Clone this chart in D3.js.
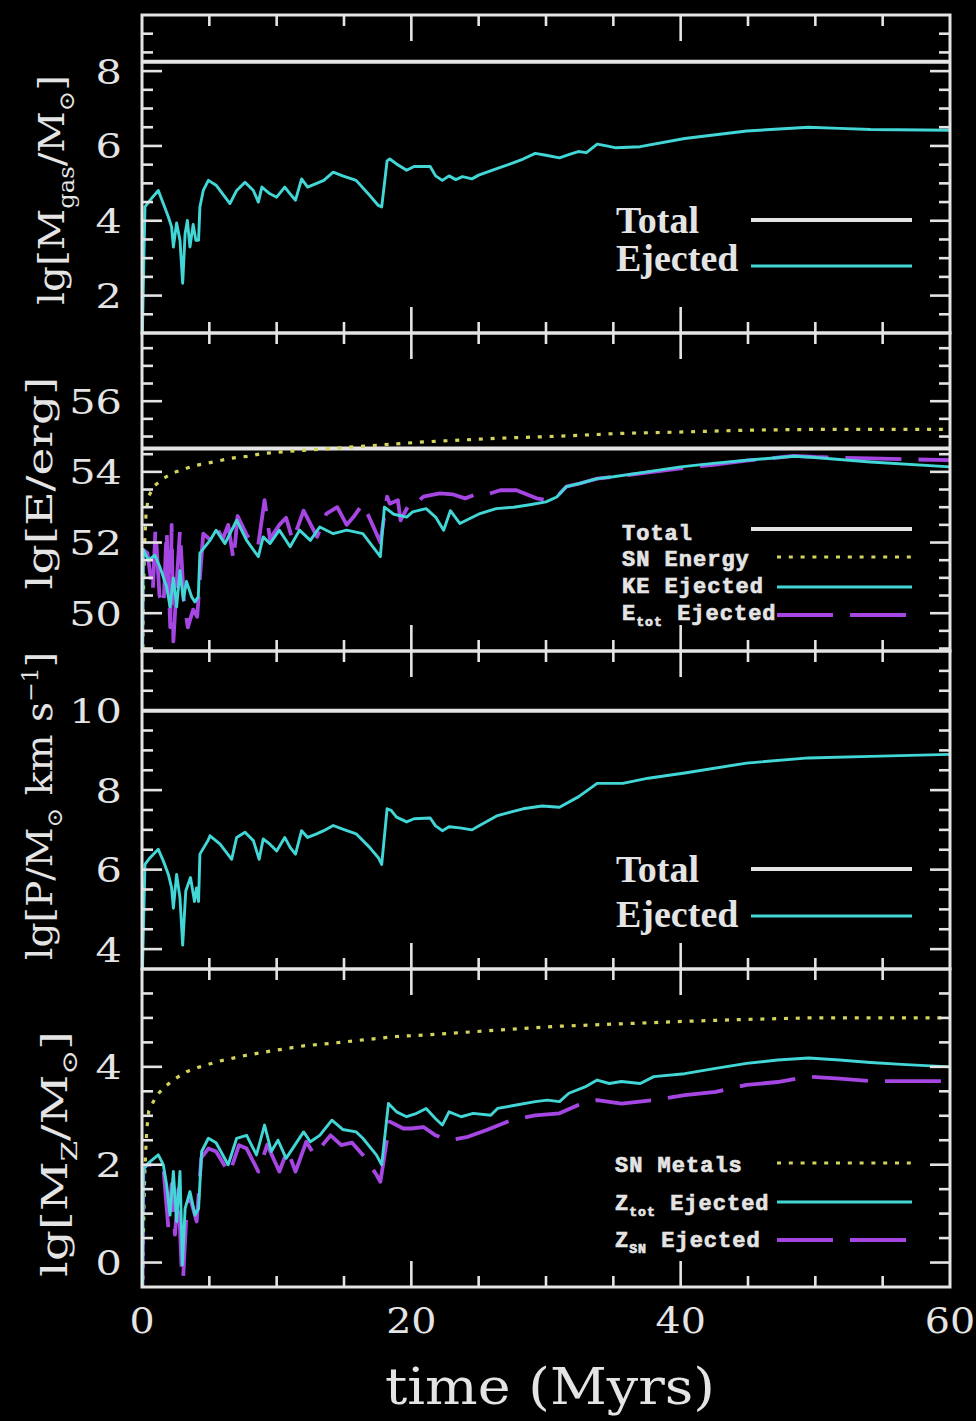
<!DOCTYPE html>
<html>
<head>
<meta charset="utf-8">
<script src="https://cdn.jsdelivr.net/npm/d3@7"></script>
<style>
  html, body { margin: 0; padding: 0; background: #000; }
  svg { display: block; }
</style>
</head>
<body>
<svg id="chart" width="976" height="1421"></svg>
<script>
// ---------------- data ----------------
// time axis (Myr)
const timeTicks = [0, 20, 40, 60];

// Panel 1: gas mass, lg[M_gas / Msun]
const massTotal = 8.25;
const massTime = [0, 0.22, 0.6, 1.21, 1.58, 1.96, 2.2, 2.33, 2.57, 2.82, 3.02, 3.2, 3.37, 3.56, 3.8, 4.0, 4.2, 4.3, 4.55, 4.93,
  5.5, 6.53, 7.03, 7.65, 8.27, 8.64, 8.9, 9.5, 10.0, 10.6, 11.0, 11.4, 11.85, 12.3, 12.97, 13.5, 14.2, 14.9, 15.9, 16.9,
  17.55, 17.8, 18.2, 18.4, 18.9, 19.65, 20.2, 21.4, 21.8, 22.3, 22.8, 23.3, 23.8, 24.5, 25.0, 26.4, 27.2, 28.3, 29.2, 30.0,
  31.0, 31.8, 32.4, 33.0, 33.8, 34.5, 35.2, 37.0, 40.3, 44.9, 49.5, 51.8, 54.1, 60];
const massEjected = [0.5, 4.37, 4.55, 4.81, 4.46, 4.1, 3.83, 3.3, 3.94, 3.48, 2.33, 3.65, 4.01, 3.3, 3.9, 3.48, 3.48, 4.37, 4.81, 5.08,
  4.95, 4.46, 4.81, 5.03, 4.81, 4.5, 4.9, 4.72, 4.63, 4.9, 4.72, 4.55, 5.12, 4.9, 5.0, 5.08, 5.3, 5.2, 5.08, 4.68,
  4.41, 4.37, 5.6, 5.65, 5.52, 5.35, 5.45, 5.45, 5.2, 5.08, 5.2, 5.1, 5.18, 5.12, 5.22, 5.4, 5.5, 5.65, 5.8, 5.75,
  5.68, 5.78, 5.85, 5.82, 6.05, 6.0, 5.95, 5.98, 6.2, 6.4, 6.5, 6.47, 6.44, 6.42];

// Panel 2: energy, lg[E / erg]
const energyTotal = 54.66;
const snEnergyTime = [0, 0.1, 0.2, 0.3, 0.47, 0.96, 1.58, 2.3, 3.3, 4.06, 5.3, 6.5, 7.8, 9.0, 11.5, 14.0, 18.4, 21.0,
  26.4, 31.0, 35.6, 40.3, 44.9, 49.5, 60];
const snEnergy = [46, 50.5, 52.0, 52.8, 53.3, 53.62, 53.81, 53.97, 54.1, 54.19, 54.28, 54.38, 54.44, 54.52, 54.6, 54.66, 54.78, 54.85,
  54.95, 55.01, 55.09, 55.13, 55.18, 55.2, 55.2];
const keTime = [0, 0.1, 0.47, 0.96, 1.34, 1.83, 2.08, 2.33, 2.57, 2.82, 3.07, 3.3, 3.69, 3.93, 4.18, 4.3, 5.05, 5.5, 6.16, 7.03,
  7.77, 8.64, 9.0, 9.5, 10.2, 11.0, 11.7, 12.5, 13.2, 14.2, 15.2, 16.4, 17.7, 18.0, 18.7, 19.65, 20.1, 21.1, 21.8, 22.4,
  22.9, 23.6, 25.1, 26.3, 27.6, 28.8, 30.0, 30.8, 31.5, 32.5, 33.8, 35.0, 37.5, 40.0, 42.4, 44.9, 48.4, 49.5, 54.1, 60];
const keEjected = [47, 51.8, 51.5, 51.64, 51.3, 50.74, 50.18, 51.0, 50.18, 51.2, 50.37, 50.9, 50.46, 50.32, 50.46, 51.7, 52.06, 52.35, 51.97, 52.63,
  52.06, 51.6, 52.16, 51.97, 52.35, 51.88, 52.35, 52.06, 52.44, 52.25, 52.35, 52.25, 51.6, 53.0, 52.8, 52.72, 52.87, 52.96, 52.72, 52.35,
  52.9, 52.54, 52.82, 52.96, 53.0, 53.07, 53.15, 53.29, 53.58, 53.67, 53.81, 53.86, 54.0, 54.14, 54.24, 54.33, 54.44, 54.42, 54.28, 54.14];
const eTotTime = [0, 0.05, 0.4, 0.8, 1.0, 1.3, 1.6, 1.83, 2.1, 2.2, 2.33, 2.6, 2.82, 3.1, 3.4, 3.8, 4.1, 4.3, 4.55, 5.0,
  5.5, 6.0, 6.4, 6.8, 7.1, 7.8, 8.6, 9.1, 9.5, 10.2, 10.7, 11.2, 12.0, 13.0, 13.7, 14.5, 15.2, 15.7, 16.4, 17.0,
  17.7, 18.2, 18.4, 19.0, 19.2, 20.0, 20.6, 20.9, 22.1, 23.1, 24.0, 25.0, 25.6, 26.6, 27.8, 29.3, 30.0, 30.8, 31.5, 32.5,
  33.8, 35.0, 37.5, 40.0, 42.4, 44.9, 48.4, 50.0, 54.1, 60];
const eTotEjected = [47, 51.8, 51.7, 50.6, 52.4, 50.5, 50.2, 52.35, 49.6, 52.5, 49.2, 51.0, 52.35, 50.4, 49.6, 50.1, 49.9, 51.0, 52.25, 52.1,
  52.45, 52.1, 52.5, 51.5, 52.75, 52.2, 51.85, 53.2, 52.1, 52.5, 52.7, 52.05, 52.9, 52.16, 52.82, 53.0, 52.5, 52.72, 53.1, 52.6,
  52.0, 53.3, 53.1, 53.2, 52.63, 53.2, 53.2, 53.3, 53.39, 53.36, 53.25, 53.39, 53.36, 53.48, 53.48, 53.25, 53.2, 53.3, 53.58, 53.67,
  53.81, 53.86, 53.98, 54.1, 54.2, 54.32, 54.45, 54.42, 54.38, 54.33];

// Panel 3: momentum, lg[P / (Msun km/s)]
const momTotal = 10.0;
const momTime = [0, 0.22, 0.6, 1.21, 1.58, 1.96, 2.2, 2.33, 2.57, 2.82, 3.02, 3.25, 3.6, 3.9, 4.05, 4.2, 4.3, 4.9, 5.05, 5.8,
  6.66, 7.03, 7.65, 8.27, 8.7, 9.0, 9.5, 10.0, 10.6, 11.0, 11.4, 11.85, 12.3, 12.97, 13.5, 14.2, 14.9, 15.9, 16.9, 17.55,
  17.8, 18.2, 18.5, 18.9, 19.65, 20.2, 21.4, 21.8, 22.3, 22.8, 23.6, 24.5, 25.0, 26.4, 28.3, 29.7, 31.0, 32.4, 33.8, 35.7,
  37.6, 40.3, 44.9, 49.5, 54.1, 60];
const momEjected = [3.0, 6.13, 6.3, 6.51, 6.22, 5.88, 5.54, 5.03, 5.88, 5.29, 4.1, 5.46, 5.8, 5.2, 5.54, 5.2, 6.39, 6.73, 6.85, 6.64,
  6.26, 6.81, 6.94, 6.73, 6.26, 6.77, 6.64, 6.47, 6.81, 6.56, 6.39, 6.98, 6.81, 6.9, 6.98, 7.11, 7.02, 6.9, 6.56, 6.3,
  6.13, 7.53, 7.49, 7.32, 7.2, 7.28, 7.3, 7.1, 6.98, 7.08, 7.05, 7.0, 7.1, 7.36, 7.53, 7.6, 7.57, 7.83, 8.17, 8.17,
  8.3, 8.43, 8.68, 8.81, 8.85, 8.9];

// Panel 4: metals, lg[M_Z / Msun]
const snMetalTime = [0, 0.1, 0.2, 0.35, 0.5, 0.72, 1.09, 1.7, 2.3, 3.3, 4.3, 5.8, 7.8, 9.5, 12.0, 14.0, 16.4, 18.9, 20.9,
  26.4, 31.0, 35.6, 40.3, 44.9, 49.5, 60];
const snMetals = [-3, 0.5, 1.8, 2.7, 3.1, 3.22, 3.42, 3.59, 3.73, 3.9, 4.0, 4.12, 4.24, 4.32, 4.43, 4.48, 4.55, 4.62, 4.65,
  4.75, 4.83, 4.88, 4.93, 4.97, 5.0, 5.0];
const zTotTime = [0, 0.1, 0.47, 1.21, 1.58, 1.83, 2.08, 2.33, 2.57, 2.82, 3.0, 3.2, 3.56, 3.93, 4.2, 4.43, 4.93, 5.5, 6.4, 7.03,
  7.77, 8.5, 9.1, 9.6, 10.1, 10.7, 12.0, 12.5, 13.2, 14.1, 14.9, 15.9, 16.4, 17.4, 17.8, 18.3, 18.9, 19.65, 20.4, 21.1,
  21.8, 22.3, 22.8, 23.7, 24.6, 25.9, 26.4, 27.8, 29.2, 30.1, 31.0, 31.7, 32.9, 33.8, 34.7, 35.6, 37.0, 38.0, 40.3, 42.6,
  44.9, 47.2, 49.5, 51.8, 54.1, 56.4, 60];
const zTotEjected = [-2, 1.9, 2.03, 2.2, 2.0, 1.59, 0.97, 1.86, 0.84, 1.86, -0.05, 1.1, 1.45, 0.97, 1.1, 2.27, 2.54, 2.45, 2.0, 2.54,
  2.6, 2.2, 2.81, 2.27, 2.5, 2.13, 2.67, 2.47, 2.6, 2.91, 2.72, 2.67, 2.54, 2.2, 2.0, 3.25, 3.08, 2.98, 3.05, 3.15,
  2.94, 2.81, 3.08, 2.98, 3.05, 3.01, 3.15, 3.22, 3.29, 3.32, 3.29, 3.46, 3.59, 3.73, 3.66, 3.7, 3.66, 3.8, 3.86, 3.97,
  4.07, 4.14, 4.18, 4.14, 4.09, 4.05, 4.0];
const zSNTime = [0, 0.1, 0.47, 1.58, 1.96, 2.2, 2.45, 2.7, 2.95, 3.05, 3.3, 3.6, 4.06, 4.4, 4.93, 5.5, 6.5, 7.2, 7.77, 8.64,
  9.3, 9.8, 10.2, 10.8, 11.4, 12.2, 12.8, 14.0, 14.8, 15.6, 16.4, 17.4, 17.7, 18.4, 19.4, 20.0, 20.9, 21.8, 22.8, 24.2,
  25.6, 27.4, 29.2, 31.0, 32.4, 33.8, 35.6, 38.0, 40.3, 42.6, 44.9, 47.2, 49.5, 51.8, 54.1, 60];
const zSNEjected = [-2, 1.95, 2.0, 1.97, 0.7, 1.6, 0.57, 1.5, -0.18, -0.35, 1.0, 1.3, 0.84, 2.14, 2.33, 2.27, 1.82, 2.4, 2.33, 1.86,
  2.41, 2.1, 1.86, 2.3, 1.86, 2.47, 2.2, 2.6, 2.4, 2.45, 2.2, 1.8, 1.65, 2.88, 2.74, 2.74, 2.77, 2.6, 2.5, 2.57,
  2.71, 2.91, 3.01, 3.05, 3.22, 3.32, 3.25, 3.32, 3.42, 3.49, 3.63, 3.69, 3.8, 3.76, 3.71, 3.71];

// y tick labels per panel
const massTicks = [2, 4, 6, 8];
const energyTicks = [50, 52, 54, 56];
const momTicks = [4, 6, 8, 10];
const metalTicks = [0, 2, 4];

// ---------------- styling ----------------
const WHITE = "#e4e4e4";
const CYAN = "#42d6d6";
const PURPLE = "#a646e2";
const YELLOW = "#d4d45c";
const SERIF = "'DejaVu Serif', 'Liberation Serif', serif";

const style = {
  total:  { stroke: WHITE,  width: 4,   dash: null },
  solid:  { stroke: CYAN,   width: 2.9, dash: null },
  dashed: { stroke: PURPLE, width: 3.8, dash: "56 17" },
  dotted: { stroke: YELLOW, width: 3.2, dash: "4 7.8" }
};

const svg = d3.select("#chart");
svg.append("rect").attr("width", 976).attr("height", 1421).attr("fill", "#000");

const x = d3.scaleLinear().domain([0, 60]).range([142, 950]);
const PANEL_H = 318;
const pairs = (ts, vs) => ts.map((t, i) => [t, vs[i]]);

const MONO_FONT = "bold 22px 'Liberation Mono', monospace";
const SERIF_BOLD = "bold 38px 'Liberation Serif', serif";

const panels = [
  {
    top: 15, domain: [1, 9.5], ticks: massTicks,
    title: [["lg[M"], ["gas", "sub"], ["/M"], ["\u2299", "sub"], ["]"]],
    titleX: 64, titleY: 190, titleLen: 230,
    series: [
      { data: [[0, massTotal], [60, massTotal]], s: "total" },
      { data: pairs(massTime, massEjected), s: "solid" }
    ],
    legend: {
      font: SERIF_BOLD, spacing: 0, weight: 0, textX: 616, lineX: [751, 912],
      rows: [
        { label: [["Total"]], y: 233, lineY: 220, s: "total" },
        { label: [["Ejected"]], y: 271, lineY: 266, s: "solid" }
      ]
    }
  },
  {
    top: 333, domain: [48.93, 57.93], ticks: energyTicks,
    title: [["lg[E/erg]"]],
    titleX: 52, titleY: 483, titleLen: 213,
    series: [
      { data: [[0, energyTotal], [60, energyTotal]], s: "total" },
      { data: pairs(snEnergyTime, snEnergy), s: "dotted" },
      { data: pairs(eTotTime, eTotEjected), s: "dashed" },
      { data: pairs(keTime, keEjected), s: "solid" }
    ],
    legend: {
      font: MONO_FONT, spacing: 1, weight: 0.7, textX: 622, lineX: [777, 912],
      rows: [
        { label: [["Total"]], y: 540, lineY: 529, s: "total", lineX: [751, 912] },
        { label: [["SN Energy"]], y: 566, lineY: 557, s: "dotted" },
        { label: [["KE Ejected"]], y: 593, lineY: 587, s: "solid" },
        { label: [["E"], ["tot", "sub"], [" Ejected"]], y: 620, lineY: 615, s: "dashed" }
      ]
    }
  },
  {
    top: 651, domain: [3.5, 11.5], ticks: momTicks,
    title: [["lg[P/M"], ["\u2299", "sub"], [" km s"], ["\u22121", "sup"], ["]"]],
    titleX: 52, titleY: 806, titleLen: 308,
    series: [
      { data: [[0, momTotal], [60, momTotal]], s: "total" },
      { data: pairs(momTime, momEjected), s: "solid" }
    ],
    legend: {
      font: SERIF_BOLD, spacing: 0, weight: 0, textX: 616, lineX: [751, 912],
      rows: [
        { label: [["Total"]], y: 882, lineY: 869, s: "total" },
        { label: [["Ejected"]], y: 927, lineY: 916, s: "solid" }
      ]
    }
  },
  {
    top: 969, domain: [-0.5, 6], ticks: metalTicks,
    title: [["lg[M"], ["Z", "sub"], ["/M"], ["\u2299", "sub"], ["]"]],
    titleX: 67, titleY: 1154, titleLen: 246,
    series: [
      { data: pairs(snMetalTime, snMetals), s: "dotted" },
      { data: pairs(zSNTime, zSNEjected), s: "dashed" },
      { data: pairs(zTotTime, zTotEjected), s: "solid" }
    ],
    legend: {
      font: MONO_FONT, spacing: 1, weight: 0.7, textX: 615, lineX: [777, 912],
      rows: [
        { label: [["SN Metals"]], y: 1172, lineY: 1163, s: "dotted" },
        { label: [["Z"], ["tot", "sub"], [" Ejected"]], y: 1210, lineY: 1202, s: "solid" },
        { label: [["Z"], ["SN", "sub"], [" Ejected"]], y: 1247, lineY: 1240, s: "dashed" }
      ]
    }
  }
];

function applyStyle(sel, key) {
  const st = style[key];
  sel.attr("fill", "none")
    .attr("stroke", st.stroke)
    .attr("stroke-width", st.width)
    .attr("stroke-linejoin", "round")
    .attr("stroke-dasharray", st.dash);
  return sel;
}

// text built from [string, "sub"|"sup"] runs
function richText(textSel, runs, fs) {
  let shift = 0;
  runs.forEach(([str, kind]) => {
    const target = kind === "sub" ? 0.28 * fs : kind === "sup" ? -0.38 * fs : 0;
    const ts = textSel.append("tspan").text(str).attr("dy", target - shift);
    if (kind) ts.attr("font-size", fs * 0.6);
    shift = target;
  });
  if (shift !== 0) textSel.append("tspan").text("\u200b").attr("dy", -shift);
}

panels.forEach((p, i) => {
  const y = d3.scaleLinear().domain(p.domain).range([p.top + PANEL_H, p.top]);
  const g = svg.append("g");
  const clipId = "clip" + i;
  svg.append("clipPath").attr("id", clipId).append("rect")
    .attr("x", x(0)).attr("y", p.top).attr("width", x(60) - x(0)).attr("height", PANEL_H);

  // data lines
  const line = d3.line().x(d => x(d[0])).y(d => y(d[1]));
  const lines = g.append("g").attr("clip-path", `url(#${clipId})`);
  p.series.forEach(s => {
    applyStyle(lines.append("path").datum(s.data).attr("d", line), s.s);
  });

  // frame
  g.append("rect").attr("x", x(0)).attr("y", p.top)
    .attr("width", x(60) - x(0)).attr("height", PANEL_H)
    .attr("fill", "none").attr("stroke", WHITE).attr("stroke-width", 3);

  // x ticks on top and bottom edges
  const xt = d3.range(5, 60, 5);
  const tk = g.append("g").attr("stroke", WHITE).attr("stroke-width", 2.6);
  xt.forEach(t => {
    const len = t % 20 === 0 ? 26 : 11;
    tk.append("line").attr("x1", x(t)).attr("x2", x(t)).attr("y1", p.top).attr("y2", p.top + len);
    tk.append("line").attr("x1", x(t)).attr("x2", x(t)).attr("y1", p.top + PANEL_H).attr("y2", p.top + PANEL_H - len);
  });
  // y ticks on left and right edges (minor every 0.5, major every 2)
  const [d0, d1] = p.domain;
  const yt = d3.range(Math.ceil(d0 * 2) / 2, d1 + 1e-6, 0.5).filter(v => v > d0 + 1e-6 && v < d1 - 1e-6);
  yt.forEach(v => {
    const len = Math.abs(v % 2) < 1e-6 ? 20 : 11;
    tk.append("line").attr("x1", x(0)).attr("x2", x(0) + len).attr("y1", y(v)).attr("y2", y(v));
    tk.append("line").attr("x1", x(60)).attr("x2", x(60) - len).attr("y1", y(v)).attr("y2", y(v));
  });

  // y tick labels
  p.ticks.forEach(v => {
    g.append("g").attr("transform", `translate(122,${y(v) + 12.5}) scale(1.22,1)`)
      .append("text").attr("text-anchor", "end")
      .attr("font-family", SERIF).attr("font-size", 34).attr("fill", WHITE)
      .text(v);
  });

  // rotated y-axis title, stretched to its measured span
  const tg = g.append("g");
  const tt = tg.append("text").attr("text-anchor", "middle")
    .attr("font-family", SERIF).attr("font-size", 36).attr("fill", WHITE);
  richText(tt, p.title, 36);
  const natural = tt.node().getComputedTextLength();
  tg.attr("transform", `translate(${p.titleX},${p.titleY}) rotate(-90) scale(${p.titleLen / natural},1)`);

  // legend
  const lg = p.legend;
  lg.rows.forEach(r => {
    const t = g.append("text").attr("x", lg.textX).attr("y", r.y)
      .attr("fill", WHITE).style("font", lg.font).style("letter-spacing", lg.spacing + "px");
    if (lg.weight) t.attr("stroke", WHITE).attr("stroke-width", lg.weight);
    const fs = parseFloat(lg.font.match(/(\d+)px/)[1]);
    richText(t, r.label, fs);
    const lx = r.lineX || lg.lineX;
    applyStyle(g.append("line").attr("x1", lx[0]).attr("x2", lx[1])
      .attr("y1", r.lineY).attr("y2", r.lineY), r.s);
  });

  // x tick labels and title on the bottom panel only
  if (i === panels.length - 1) {
    timeTicks.forEach(t => {
      g.append("g").attr("transform", `translate(${x(t)},1333) scale(1.1,1)`)
        .append("text").attr("text-anchor", "middle")
        .attr("font-family", SERIF).attr("font-size", 36).attr("fill", WHITE)
        .text(t);
    });
    const xg = svg.append("g");
    const xtxt = xg.append("text").attr("text-anchor", "middle")
      .attr("font-family", SERIF).attr("font-size", 50).attr("fill", WHITE)
      .text("time (Myrs)");
    const w = xtxt.node().getComputedTextLength();
    xg.attr("transform", `translate(550,1404) scale(${330 / w},1)`);
  }
});
</script>
</body>
</html>
